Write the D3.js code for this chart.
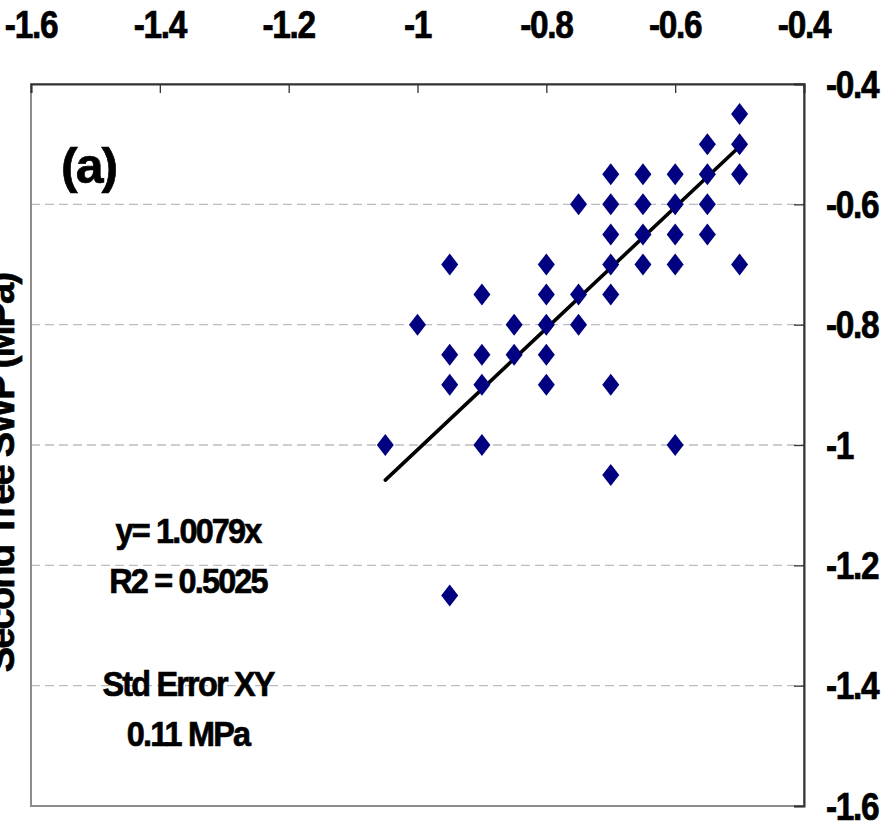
<!DOCTYPE html>
<html><head><meta charset="utf-8">
<script src="https://cdn.jsdelivr.net/npm/d3@7"></script>
<style>
body{margin:0;background:#fff;}
svg text{font-family:"Liberation Sans",Arial,sans-serif;font-weight:bold;fill:#000;stroke:#000;stroke-width:0.7px;}
</style></head>
<body>
<svg id="c" width="888" height="821"></svg>
<script>
// data
const xVals = [-0.5,-0.5,-0.5,-0.5,
  -0.55,-0.55,-0.55,-0.55,
  -0.6,-0.6,-0.6,-0.6,-0.6,
  -0.65,-0.65,-0.65,-0.65,
  -0.7,-0.7,-0.7,-0.7,-0.7,-0.7,-0.7,
  -0.75,-0.75,-0.75,
  -0.8,-0.8,-0.8,-0.8,-0.8,
  -0.85,-0.85,
  -0.9,-0.9,-0.9,-0.9,
  -0.95,-0.95,-0.95,-0.95,
  -1.0,
  -1.05];
const yVals = [-0.45,-0.5,-0.55,-0.7,
  -0.5,-0.55,-0.6,-0.65,
  -0.55,-0.6,-0.65,-0.7,-1.0,
  -0.55,-0.6,-0.65,-0.7,
  -0.55,-0.6,-0.65,-0.7,-0.75,-0.9,-1.05,
  -0.6,-0.75,-0.8,
  -0.7,-0.75,-0.8,-0.85,-0.9,
  -0.8,-0.85,
  -0.75,-0.85,-0.9,-1.0,
  -0.7,-0.85,-0.9,-1.25,
  -0.8,
  -1.0];
const slope = 1.0079;
const fitRange = [-1.05, -0.5];
const xTicks = [-1.6,-1.4,-1.2,-1.0,-0.8,-0.6,-0.4];
const xTickLabels = ["-1.6","-1.4","-1.2","-1","-0.8","-0.6","-0.4"];
const yTicks = [-0.4,-0.6,-0.8,-1.0,-1.2,-1.4,-1.6];
const yTickLabels = ["-0.4","-0.6","-0.8","-1","-1.2","-1.4","-1.6"];
const gridVals = [-0.6,-0.8,-1.0,-1.2,-1.4];
const annotations = ["y= 1.0079x","R2 = 0.5025","Std Error XY","0.11 MPa"];
const panelLabel = "(a)";
const yTitle = "Second Tree SWP (MPa)";

const L=31, R=804, T=84, B=806;
const svg = d3.select("#c");
const x = d3.scaleLinear().domain([-1.6,-0.4]).range([L,R]);
const y = d3.scaleLinear().domain([-0.4,-1.6]).range([T,B]);

// grid
svg.append("g").selectAll("line").data(gridVals).join("line")
  .attr("x1",L).attr("x2",R).attr("y1",d=>y(d)).attr("y2",d=>y(d))
  .attr("stroke","#bdbdbd").attr("stroke-width",1.3).attr("stroke-dasharray","9,5");

// frame
svg.append("rect").attr("x",L).attr("y",T).attr("width",R-L).attr("height",B-T)
  .attr("fill","none").attr("stroke","#8c8c8c").attr("stroke-width",2);

// top axis
const xa = svg.append("g").attr("transform",`translate(0,${T})`)
  .call(d3.axisBottom(x).tickValues(xTicks).tickSize(9).tickFormat(""));
xa.select(".domain").attr("stroke","#333").attr("stroke-width",2);
xa.selectAll(".tick line").attr("stroke","#333").attr("stroke-width",1.3);
svg.append("g").selectAll("text").data(xTicks).join("text")
  .attr("transform",d=>`translate(${x(d)},38) scale(0.88,1)`).attr("text-anchor","middle")
  .attr("font-size",38).attr("letter-spacing",-1.5)
  .text((d,i)=>xTickLabels[i]);

// right axis
const ya = svg.append("g").attr("transform",`translate(${R},0)`)
  .call(d3.axisLeft(y).tickValues(yTicks).tickSize(10).tickFormat(""));
ya.select(".domain").attr("stroke","#333").attr("stroke-width",2);
ya.selectAll(".tick line").attr("stroke","#333").attr("stroke-width",1.3);
svg.append("g").selectAll("text").data(yTicks).join("text")
  .attr("transform",d=>`translate(826,${y(d)}) scale(0.88,1)`).attr("dy","0.36em")
  .attr("font-size",38).attr("letter-spacing",-1.5)
  .text((d,i)=>yTickLabels[i]);

// fit line
svg.append("line")
  .attr("x1",x(fitRange[0])).attr("y1",y(slope*fitRange[0]))
  .attr("x2",x(fitRange[1])).attr("y2",y(slope*fitRange[1]))
  .attr("stroke","#000").attr("stroke-width",3.6).attr("stroke-linecap","round");

// points
const dia = "M0,-11L8.5,0L0,11L-8.5,0Z";
svg.append("g").selectAll("path").data(xVals).join("path")
  .attr("d",dia).attr("fill","#000080")
  .attr("transform",(d,i)=>`translate(${x(d)},${y(yVals[i])})`);

// panel label
svg.append("text").attr("transform","translate(61,183) scale(1,1)")
  .attr("font-size",50).attr("letter-spacing",-2).text(panelLabel);

// annotations
const annY=[543,593,696,746];
svg.append("g").selectAll("text").data(annotations).join("text")
  .attr("transform",(d,i)=>`translate(188,${annY[i]}) scale(0.9,1)`).attr("text-anchor","middle")
  .attr("font-size",36).attr("letter-spacing",-2).text(d=>d);

// y title
svg.append("text").attr("transform","translate(14,473) rotate(-90)")
  .attr("text-anchor","middle").attr("font-size",38).attr("letter-spacing",-1.8).text(yTitle);
</script>
</body></html>
